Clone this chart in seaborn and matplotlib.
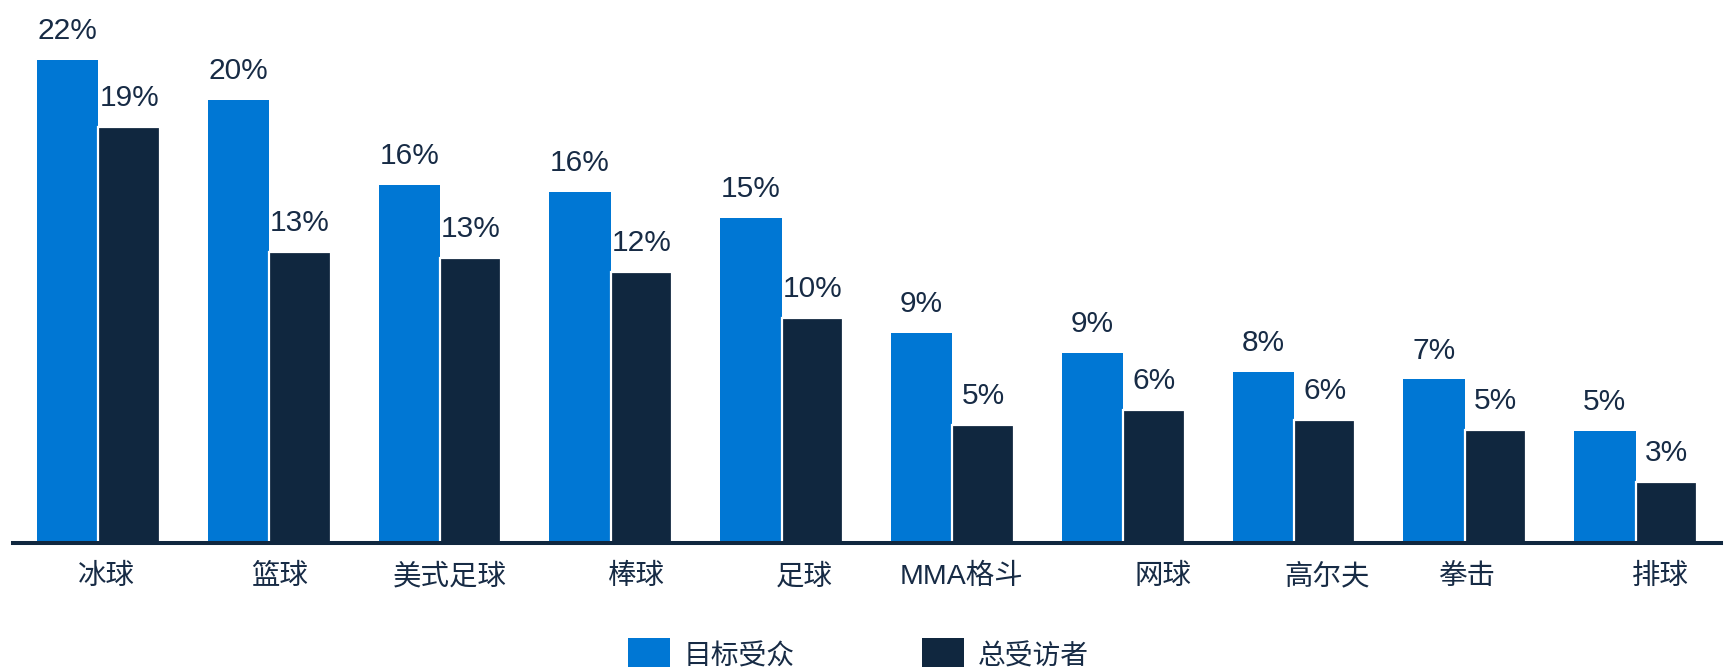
import matplotlib
matplotlib.use("Agg")
import matplotlib.pyplot as plt
from matplotlib.patches import Patch
from matplotlib.transforms import ScaledTranslation
import seaborn as sns
import pandas as pd

# Share of each group that follows the sport (%)
sports = ["冰球", "篮球", "美式足球", "棒球", "足球", "MMA格斗", "网球", "高尔夫", "拳击", "排球"]
target_audience = [21.7, 19.9, 16.1, 15.8, 14.6, 9.45, 8.55, 7.7, 7.35, 5.05]
all_respondents = [18.7, 13.1, 12.8, 12.2, 10.1, 5.3, 6.0, 5.55, 5.1, 2.75]
series_names = ["目标受众", "总受访者"]

# horizontal nudge of each category label, in pixels
label_shift_px = [8, 11, 10, 26, 23, 9, 40, 33, 2, 25]

BLUE = "#0077D4"
NAVY = "#10273F"
TEXT = "#172B45"

sns.set_theme(style="white")
plt.rcParams["font.family"] = ["Liberation Sans", "Noto Sans CJK SC", "DejaVu Sans"]

df = pd.DataFrame({
    "sport": sports * 2,
    "value": target_audience + all_respondents,
    "series": [series_names[0]] * len(sports) + [series_names[1]] * len(sports),
})

W, H = 1727, 667
fig = plt.figure(figsize=(W / 100, H / 100), dpi=100)
ax = fig.add_axes([13 / W, (H - 543) / H, 1708 / W, 533 / H])

sns.barplot(
    data=df, x="sport", y="value", hue="series",
    palette=[BLUE, NAVY], width=0.72, gap=0, saturation=1,
    legend=False, ax=ax, errorbar=None,
)

# white outline on the respondent bars separates them from the audience bars
for bar in ax.containers[1]:
    bar.set_edgecolor("white")
    bar.set_linewidth(1.6)
for bar in ax.containers[0]:
    bar.set_linewidth(0)

for cont in ax.containers:
    for bar in cont:
        h = bar.get_height()
        ax.annotate(
            f"{h:.0f}%",
            (bar.get_x() + bar.get_width() / 2, h),
            xytext=(0, 15), textcoords="offset points",
            ha="center", va="baseline", fontsize=21.5, color=TEXT,
        )

ax.set_xlim(-0.5, len(sports) - 0.5)
ax.set_ylim(0, 23.96)
ax.set_xlabel("")
ax.set_ylabel("")
ax.set_yticks([])
ax.tick_params(axis="x", length=0, pad=15, labelsize=20.5, labelcolor=TEXT)
for lbl, dx in zip(ax.get_xticklabels(), label_shift_px):
    lbl.set_transform(lbl.get_transform() + ScaledTranslation(dx / 100, 0, fig.dpi_scale_trans))

for s in ["top", "right", "left"]:
    ax.spines[s].set_visible(False)
ax.spines["bottom"].set_color(NAVY)
ax.spines["bottom"].set_linewidth(2.9)
ax.spines["bottom"].set_zorder(5)

handles = [Patch(facecolor=BLUE, edgecolor="none"), Patch(facecolor=NAVY, edgecolor="none")]
fig.legend(
    handles, series_names, loc="center", bbox_to_anchor=(0.497, 1 - 655 / H),
    ncol=2, frameon=False, fontsize=20, handlelength=1.5, handleheight=1.5,
    handletextpad=0.5, columnspacing=4.6, labelcolor=TEXT,
)

fig.savefig("out.png", dpi=100, facecolor="white")
